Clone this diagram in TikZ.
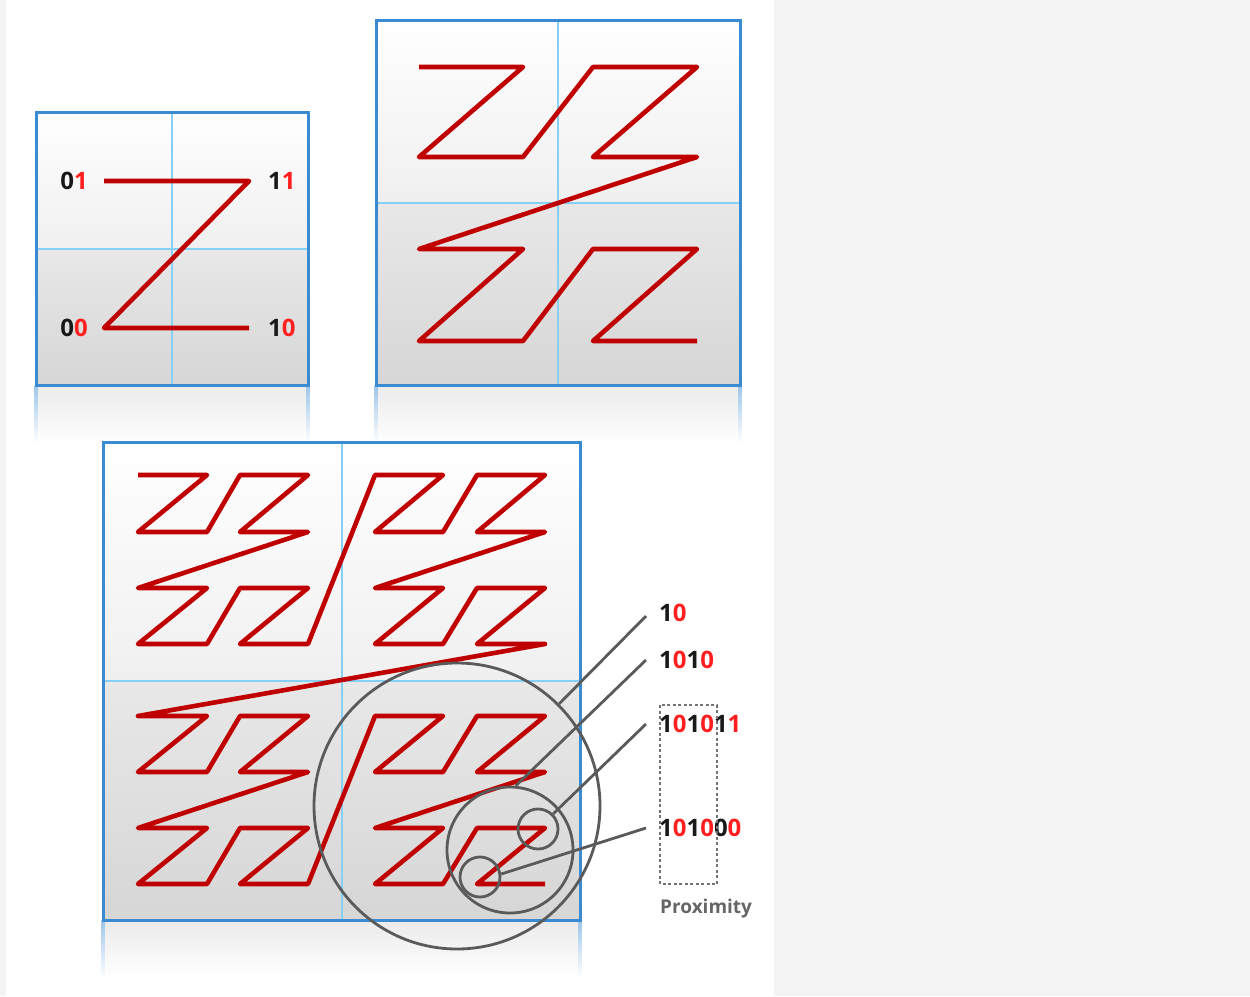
\documentclass[tikz,border=0pt]{standalone}
\usepackage{fontspec}
\setmainfont{Open Sans}
\usetikzlibrary{positioning}
\definecolor{pagegray}{HTML}{F4F4F4}
\definecolor{zred}{HTML}{C00000}
\definecolor{bitred}{HTML}{FF1F1F}
\definecolor{frameblue}{HTML}{3A8BD2}
\definecolor{gridblue}{HTML}{86D0F6}
\definecolor{ringgray}{HTML}{5A5A5A}
\newcommand{\rb}[1]{\textcolor{bitred}{#1}}
% left, top, right, bottom of one panel
\newcommand{\zpanel}[4]{%
  \shade[top color=black!8, bottom color=white] (#1,#4) rectangle (#3,{#4+58});
  \shade[top color=frameblue!50, bottom color=white] ({#1-1.5},#4) rectangle ({#1+1.5},{#4+58});
  \shade[top color=frameblue!50, bottom color=white] ({#3-1.5},#4) rectangle ({#3+1.5},{#4+58});
  \shade[top color=white, bottom color=black!6] (#1,#2) rectangle (#3,{(#2+#4)/2});
  \shade[top color=black!9, bottom color=black!16] (#1,{(#2+#4)/2}) rectangle (#3,#4);
  \draw[gridblue, line width=2pt] ({(#1+#3)/2},#2) -- ({(#1+#3)/2},#4)
    (#1,{(#2+#4)/2}) -- (#3,{(#2+#4)/2});
  \draw[frameblue, line width=3pt] (#1,#2) rectangle (#3,#4);
}
\tikzset{
  zcurve/.style={draw=zred, line width=4.6pt, line join=round},
  bits/.style={inner sep=0pt, text=black!90, font=\fontsize{24}{27}\selectfont\bfseries},
  ring/.style={circle, draw=ringgray, line width=2.8pt, inner sep=0pt},
  leader/.style={draw=ringgray, line width=2.8pt},
}
\begin{document}
\begin{tikzpicture}[x=1pt,y=-1pt]
\useasboundingbox (0,0) rectangle (1250,996);
\fill[pagegray] (0,0) rectangle (1250,996);
\fill[white] (6,0) rectangle (774,996);

\zpanel{36}{112}{308}{385}
\zpanel{376}{20}{740}{385}
\zpanel{103}{442}{580}{920}

\draw[zcurve] (104,181) coordinate (q01) -- (249,181) coordinate (q11)
  -- (104,328) coordinate (q00) -- (249,328) coordinate (q10);
\node[bits, anchor=east] (b01) at (88,181) {0\rb{1}};
\node[bits, anchor=west] (b11) at (268,181) {1\rb{1}};
\node[bits, anchor=east] (b00) at (88,328) {0\rb{0}};
\node[bits, anchor=west] (b10) at (268,328) {1\rb{0}};

\foreach \n in {0,...,15}{
  \pgfmathtruncatemacro{\ix}{mod(\n,2)+2*mod(floor(\n/4),2)}
  \pgfmathtruncatemacro{\iy}{mod(floor(\n/2),2)+2*mod(floor(\n/8),2)}
  \pgfmathsetmacro{\px}{{419,523,593,697}[\ix]}
  \pgfmathsetmacro{\py}{{67,157,249,341}[\iy]}
  \coordinate (p2-\n) at (\px,\py);
}
\draw[zcurve] (p2-0) \foreach \n in {1,...,15}{ -- (p2-\n)};

\foreach \n in {0,...,63}{
  \pgfmathtruncatemacro{\ix}{mod(\n,2)+2*mod(floor(\n/4),2)+4*mod(floor(\n/16),2)}
  \pgfmathtruncatemacro{\iy}{mod(floor(\n/2),2)+2*mod(floor(\n/8),2)+4*mod(floor(\n/32),2)}
  \pgfmathsetmacro{\px}{{138,207,240,308,375,443,477,545}[\ix]}
  \pgfmathsetmacro{\py}{{475,532,588,644,716,772,828,884}[\iy]}
  \coordinate (p3-\n) at (\px,\py);
}
\draw[zcurve] (p3-0) \foreach \n in {1,...,63}{ -- (p3-\n)};

\node[ring, minimum size=286pt] (ring1) at (457,806) {};
\node[ring, minimum size=126pt] (ring2) at (510,850) {};
\node[ring, minimum size=40pt] (ring3) at (538,829) {};
\node[ring, minimum size=40pt] (ring4) at (480,877) {};

\node[bits, anchor=west] (l10) at (659,613) {1\rb{0}};
\node[bits, anchor=west] (l1010) at (659,660) {1\rb{0}1\rb{0}};
\node[bits, anchor=west] (l101011) at (659,724) {1\rb{0}1\rb{0}1\rb{1}};
\node[bits, anchor=west] (l101000) at (659,828) {1\rb{0}1\rb{0}0\rb{0}};
\draw[black!55, line width=1.2pt, dash pattern=on 3pt off 2.5pt] (660,705) rectangle (717,884);
\node[anchor=west, inner sep=0pt, text=black!60, font=\fontsize{19}{21}\selectfont\bfseries] (prox) at (660,909) {Proximity};

\draw[leader] ([xshift=-13pt,yshift=-3pt]l10.west) -- (ring1.45);
\draw[leader] ([xshift=-13pt]l1010.west) -- (ring2.85);
\draw[leader] ([xshift=-13pt]l101011.west) -- (ring3.45);
\draw[leader] ([xshift=-13pt]l101000.west) -- (ring4.8);
\end{tikzpicture}
\end{document}
